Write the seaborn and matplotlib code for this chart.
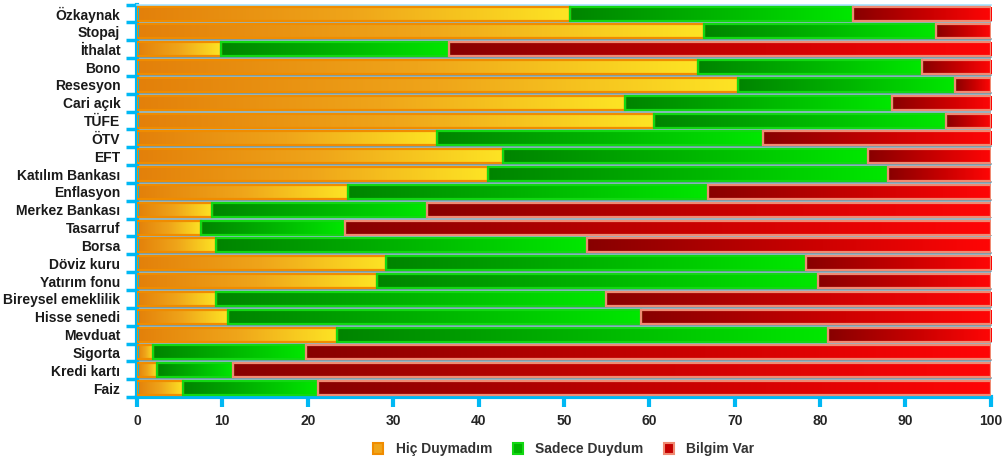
import numpy as np
import pandas as pd
import matplotlib
matplotlib.use("Agg")
import matplotlib.pyplot as plt
import seaborn as sns
from matplotlib.colors import LinearSegmentedColormap
from matplotlib.patches import Patch

kavramlar = ["Özkaynak", "Stopaj", "İthalat", "Bono", "Resesyon", "Cari açık", "TÜFE",
             "ÖTV", "EFT", "Katılım Bankası", "Enflasyon", "Merkez Bankası", "Tasarruf",
             "Borsa", "Döviz kuru", "Yatırım fonu", "Bireysel emeklilik", "Hisse senedi",
             "Mevduat", "Sigorta", "Kredi kartı", "Faiz"]
hic_duymadim = [50.7, 66.4, 9.8, 65.7, 70.4, 57.1, 60.5, 35.1, 42.9, 41.1, 24.7,
                8.8, 7.5, 9.3, 29.2, 28.1, 9.3, 10.7, 23.4, 1.9, 2.4, 5.4]
sadece_duydum = [33.1, 27.2, 26.7, 26.2, 25.4, 31.3, 34.2, 38.2, 42.7, 46.9, 42.2,
                 25.2, 16.9, 43.4, 49.1, 51.7, 45.6, 48.3, 57.5, 17.9, 8.9, 15.8]
bilgim_var = [16.2, 6.4, 63.5, 8.1, 4.2, 11.6, 5.3, 26.7, 14.4, 12.0, 33.1,
              66.0, 75.6, 47.3, 21.7, 20.2, 45.1, 41.0, 19.1, 80.2, 88.7, 78.8]
seri_adlari = ["Hiç Duymadım", "Sadece Duydum", "Bilgim Var"]
x_ticks = [0, 10, 20, 30, 40, 50, 60, 70, 80, 90, 100]

df = pd.DataFrame({"kavram": kavramlar, "hic": hic_duymadim,
                   "sadece": sadece_duydum, "bilgim": bilgim_var})

# gradient colours (left dark -> right light) and outlines
stiller = [
    (["#e3800a", "#efa51a", "#fde424"], "#f08c00"),
    (["#008400", "#00b400", "#00e800"], "#12d812"),
    (["#880000", "#c40000", "#ff0606"], "#f08a72"),
]

sns.set_style("white")
plt.rcParams["font.family"] = ["Liberation Sans", "DejaVu Sans"]
plt.rcParams["font.weight"] = "bold"

mavi = "#00b8f4"
fig = plt.figure(figsize=(10.07, 4.63), dpi=100)
ax = fig.add_axes([0.136, 0.1425, 0.848, 0.8475])
ax.set_facecolor("#8fb8ca")

sol = np.zeros(len(df))
for sutun, (renkler, kenar) in zip(["hic", "sadece", "bilgim"], stiller):
    n0 = len(ax.patches)
    sns.barplot(data=df, x=sutun, y="kavram", order=kavramlar, orient="h",
                color=renkler[1], width=0.78, ax=ax, zorder=3)
    cmap = LinearSegmentedColormap.from_list(sutun, renkler)
    for i, p in enumerate(ax.patches[n0:]):
        p.set_x(sol[i])
        p.set_facecolor("none")
        p.set_edgecolor(kenar)
        p.set_linewidth(1.6)
        x0, x1 = p.get_x(), p.get_x() + p.get_width()
        y0, y1 = p.get_y(), p.get_y() + p.get_height()
        # soft shadow below each segment
        ax.fill_between([x0 + 0.25, x1 + 0.25], y1, y1 + 0.1, color="#5f8799",
                        alpha=0.55, lw=0, zorder=1)
        grad = np.linspace(0, 1, 256).reshape(1, -1)
        im = ax.imshow(grad, cmap=cmap, extent=(x0, x1, y1, y0), aspect="auto",
                       interpolation="bilinear", zorder=2)
        im.set_clip_path(p)
    sol = sol + df[sutun].to_numpy()

ax.set_xlim(0, 100)
ax.set_ylim(len(kavramlar) - 0.5, -0.5)
ax.set_xlabel("")
ax.set_ylabel("")
ax.set_xticks(x_ticks)
ax.set_xticklabels([str(t) for t in x_ticks], fontsize=10, fontweight="bold")
ax.set_yticks(range(len(kavramlar)))
ax.set_yticklabels(kavramlar, fontsize=10, fontweight="bold", color="#1a1a1a")
ax.set_yticks(np.arange(-0.5, len(kavramlar), 1), minor=True)
ax.tick_params(axis="y", which="major", length=0, pad=12)
ax.tick_params(axis="y", which="minor", length=8, width=2.5, color=mavi, left=True)
ax.tick_params(axis="x", which="major", length=7, width=3, color=mavi, bottom=True, pad=5)

for s in ["left", "bottom"]:
    ax.spines[s].set_color(mavi)
    ax.spines[s].set_linewidth(3)
ax.spines["top"].set_color("#a8e4ff")
ax.spines["top"].set_linewidth(1.2)
ax.spines["right"].set_visible(False)

handles = [Patch(facecolor=r[1], edgecolor=k, linewidth=1.5) for r, k in stiller]
fig.legend(handles, seri_adlari, loc="center", bbox_to_anchor=(0.56, 0.03), ncol=3,
           frameon=False, handlelength=0.7, handleheight=0.9, handletextpad=0.9,
           columnspacing=1.5, prop={"size": 10, "weight": "bold"}, labelcolor="#333333")

fig.savefig("out.png", dpi=100)
